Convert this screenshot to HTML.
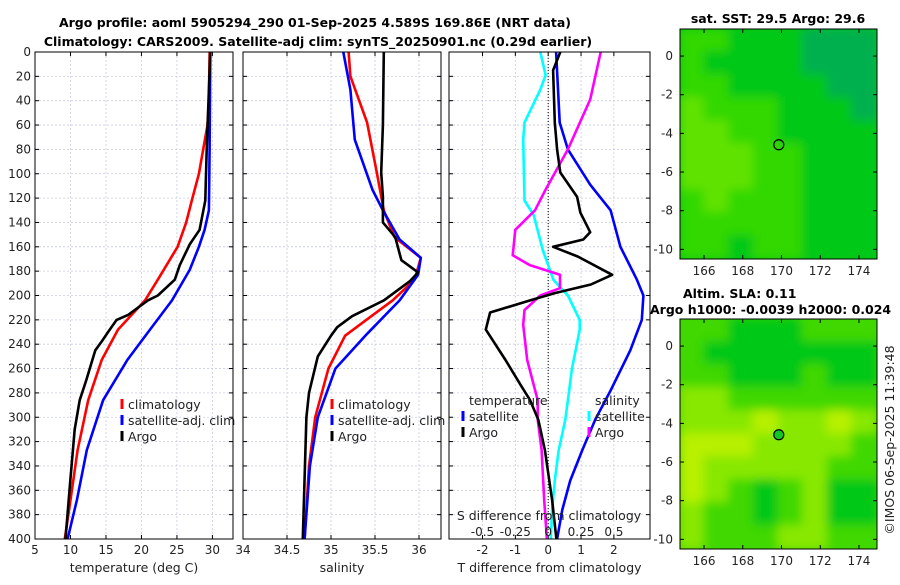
<!DOCTYPE html>
<html><head><meta charset="utf-8"><style>
body{margin:0;background:#fff;width:900px;height:580px;overflow:hidden}
svg{font-family:"DejaVu Sans","Liberation Sans",sans-serif}
</style></head><body>
<svg id="c" width="900" height="580">
<defs><filter id="bl"><feGaussianBlur stdDeviation="5"/></filter>
<clipPath id="m1c"><rect x="680" y="29" width="197" height="230"/></clipPath>
<clipPath id="m2c"><rect x="680" y="319" width="197" height="230"/></clipPath></defs>
<text x="315" y="27" text-anchor="middle" font-size="12.5" font-weight="bold">Argo profile: aoml 5905294_290 01-Sep-2025 4.589S 169.86E (NRT data)</text>
<text x="318" y="46" text-anchor="middle" font-size="12.5" font-weight="bold">Climatology: CARS2009. Satellite-adj clim: synTS_20250901.nc (0.29d earlier)</text>
<text x="778" y="23" text-anchor="middle" font-size="12.5" font-weight="bold">sat. SST: 29.5 Argo: 29.6</text>
<text x="683" y="298" font-size="12.5" font-weight="bold">Altim. SLA: 0.11</text>
<text x="650" y="314" font-size="12.5" font-weight="bold">Argo h1000: -0.0039 h2000: 0.024</text>
<text transform="translate(894,440) rotate(-90)" text-anchor="middle" font-size="12.5" fill="#222">©IMOS 06-Sep-2025 11:39:48</text>
</svg>
<script>
const depths=[0,20,40,60,80,100,120,140,160,170,180,190,200,220,240,260,280,300,320,340,360,380,400];
const tClimD=[0,40,60,80,100,122,140,160,187,204,228,253,286,327,368,400];
const tClim=[29.6,29.5,29.3,28.7,28.1,27.1,26.3,25.1,22.3,20.5,16.7,14.4,12.5,11,10,9.2];
const tSatD=[0,80,130,146,160,179,204,228,253,286,327,368,400];
const tSat=[29.7,29.6,29.5,28.9,28.1,26.8,24.3,21.2,18,14.6,12.3,10.9,9.6];
const tArgoD=[0,80,122,146,158,175,187,200,204,216,220,230,237,245,270,286,310,350,400];
const tArgo=[29.7,29.2,29.0,28.2,26.8,25.4,24.7,22.3,20.9,18.1,16.5,15.3,14.5,13.5,12.2,11.3,10.6,10,9.3];
const sClimD=[0,20,58,99,130,152,169,187,204,233,260,300,340,400];
const sClim=[35.2,35.22,35.41,35.52,35.6,35.72,36.02,35.95,35.7,35.16,34.97,34.82,34.75,34.7];
const sSatD=[0,31,72,113,130,154,169,183,204,233,260,300,340,400];
const sSat=[35.14,35.22,35.27,35.47,35.59,35.78,36.02,35.99,35.78,35.39,35.05,34.85,34.76,34.7];
const sArgoD=[0,60,99,119,140,152,171,181,188,204,217,226,233,250,280,300,400];
const sArgo=[35.6,35.59,35.57,35.59,35.59,35.73,35.8,35.99,35.9,35.6,35.24,35.07,35.0,34.85,34.75,34.72,34.68];
const dTArgoD=[0,15,58,80,99,119,132,148,154,160,168,183,191,198,204,214,228,253,273,286,302,327,368,400];
const dTArgo=[0.37,0.15,0.2,0.27,0.37,0.88,0.98,1.28,1.07,0.15,0.9,1.95,1.3,0.2,-0.55,-1.77,-1.9,-1.3,-0.85,-0.55,-0.3,-0.1,0.12,0.25];
const dTSatD=[0,58,80,109,130,160,187,200,220,245,278,302,327,352,376,400];
const dTSat=[0.24,0.35,0.6,1.28,1.9,2.2,2.7,2.9,2.85,2.5,1.9,1.43,1.04,0.67,0.43,0.27];
const dSSatD=[0,19,31,58,72,122,134,163,187,200,220,228,261,286,302,327,352,376,400];
const dSSat=[-0.06,-0.02,-0.06,-0.18,-0.19,-0.18,-0.11,-0.04,0.04,0.15,0.24,0.24,0.18,0.15,0.13,0.08,0.05,0.03,0.02];
const dSArgoD=[0,39,80,113,130,146,167,175,183,194,200,212,224,253,286,302,327,368,400];
const dSArgo=[0.4,0.32,0.15,-0.02,-0.1,-0.25,-0.27,-0.14,0.09,0.09,-0.06,-0.18,-0.19,-0.16,-0.08,-0.08,-0.05,-0.03,-0.01];
const depthTicks=[0,20,40,60,80,100,120,140,160,180,200,220,240,260,280,300,320,340,360,380,400];
const tTicks=[5,10,15,20,25,30];
const sTicks=[34,34.5,35,35.5,36];
const dTTicks=[-2,-1,0,1,2];
const dSTicks=[-0.5,-0.25,0,0.25,0.5];
const latTicks=[0,-2,-4,-6,-8,-10];
const lonTicks=[166,168,170,172,174];
const sstGrid=[[2,2,1,1,1,0,0,0],[2,1,1,1,1,0,0,0],[2,2,1,1,1,1,0,0],[3,2,2,2,1,1,1,0],[3,3,2,2,1,1,1,1],[3,3,3,2,2,1,1,1],[3,3,3,2,2,1,1,1],[2,3,2,2,2,1,1,1],[2,2,2,2,2,1,1,1],[2,2,1,2,2,1,1,1]];
const slaGrid=[[1,1,0,0,0,1,1,1],[1,0,0,0,0,0,0,0],[1,1,0,0,0,1,0,0],[2,2,1,1,1,1,1,1],[2,2,2,3,2,2,3,2],[3,3,3,2,2,2,2,1],[3,2,2,2,2,2,1,1],[3,2,1,0,1,2,0,0],[2,1,1,0,1,2,0,0],[2,1,1,1,2,2,1,1]];
const argoLon=169.86, argoLat=-4.589;

const svg=document.getElementById('c');const NS='http://www.w3.org/2000/svg';
function el(t,a,p){const e=document.createElementNS(NS,t);for(const k in a)e.setAttribute(k,a[k]);(p||svg).appendChild(e);return e;}
const Y0=52,Y1=539;const yD=d=>Y0+d/400*(Y1-Y0);
function panel(name,x0,x1,vmin,vmax,ticks,lbl){
  const g=el('g',{});
  const xs=v=>x0+(v-vmin)/(vmax-vmin)*(x1-x0);
  el('rect',{x:x0,y:Y0,width:x1-x0,height:Y1-Y0,fill:'#fff'},g);
  depthTicks.forEach(d=>{el('line',{x1:x0,x2:x1,y1:yD(d),y2:yD(d),stroke:'#c8cde0','stroke-dasharray':'2,2','stroke-width':0.8},g);
    el('line',{x1:x0,x2:x0+4,y1:yD(d),y2:yD(d),stroke:'#000'},g);el('line',{x1:x1-4,x2:x1,y1:yD(d),y2:yD(d),stroke:'#000'},g);});
  ticks.forEach(v=>{const x=xs(v);el('line',{x1:x,x2:x,y1:Y0,y2:Y1,stroke:'#c8cde0','stroke-dasharray':'2,2','stroke-width':0.8},g);
    el('line',{x1:x,x2:x,y1:Y1,y2:Y1-4,stroke:'#000'},g);el('line',{x1:x,x2:x,y1:Y0,y2:Y0+4,stroke:'#000'},g);
    const t=el('text',{x:x,y:554,'text-anchor':'middle','font-size':12,fill:'#222'},g);t.textContent=v;
    });
  const tl=el('text',{x:(x0+x1)/2,y:572,'text-anchor':'middle','font-size':12.5,fill:'#222'},g);tl.textContent=lbl;
  
  return {g,xs,x0,x1};
}
function line(p,dArr,vArr,col,name,xs){
  const pts=dArr.map((d,i)=>xs(vArr[i]).toFixed(1)+','+yD(d).toFixed(1)).join(' ');
  const l=el('polyline',{points:pts,fill:'none',stroke:col,'stroke-width':2.6,'stroke-linejoin':'round'},p.g);
  
}
function frame(p){el('rect',{x:p.x0,y:Y0,width:p.x1-p.x0,height:Y1-Y0,fill:'none',stroke:'#000','stroke-width':1},p.g);}
function legend(p,x,y,items){items.forEach((it,i)=>{
  if(it[1])el('line',{x1:x,x2:x,y1:y+i*16-10,y2:y+i*16,stroke:it[1],'stroke-width':3},p.g);
  const t=el('text',{x:x+6,y:y+i*16,'font-size':12.5,fill:'#222'},p.g);t.textContent=it[0];
  });}

const p1=panel('temperature-panel',35,233,5,32.9,tTicks,'temperature (deg C)');
depthTicks.forEach(d=>{const t=el('text',{x:31,y:yD(d)+4,'text-anchor':'end','font-size':12,fill:'#222'});t.textContent=d;
  });
line(p1,tClimD,tClim,'#f00','temp-climatology-line',p1.xs);
line(p1,tSatD,tSat,'#00f','temp-satellite-line',p1.xs);
line(p1,tArgoD,tArgo,'#000','temp-argo-line',p1.xs);
legend(p1,122,409,[['climatology','#f00'],['satellite-adj. clim','#00f'],['Argo','#000']]);frame(p1);

const p2=panel('salinity-panel',243,441,34,36.25,sTicks,'salinity');
line(p2,sClimD,sClim,'#f00','sal-climatology-line',p2.xs);
line(p2,sSatD,sSat,'#00f','sal-satellite-line',p2.xs);
line(p2,sArgoD,sArgo,'#000','sal-argo-line',p2.xs);
legend(p2,332,409,[['climatology','#f00'],['satellite-adj. clim','#00f'],['Argo','#000']]);frame(p2);

const p3=panel('difference-panel',449,650,-3.02,3.1,dTTicks,'T difference from climatology');
const xsS=v=>p3.xs(v*4);
el('line',{x1:p3.xs(0),x2:p3.xs(0),y1:Y0,y2:Y1,stroke:'#000','stroke-dasharray':'1,2'},p3.g);
line(p3,dTSatD,dTSat,'#00f','dT-satellite-line',p3.xs);
line(p3,dSSatD,dSSat,'#0ff','dS-satellite-line',xsS);
line(p3,dSArgoD,dSArgo,'#f0f','dS-argo-line',xsS);
line(p3,dTArgoD,dTArgo,'#000','dT-argo-line',p3.xs);
legend(p3,463,405,[['temperature',null],['satellite','#00f'],['Argo','#000']]);
legend(p3,589,405,[['salinity',null],['satellite','#0ff'],['Argo','#f0f']]);
{const t=el('text',{x:549,y:520,'text-anchor':'middle','font-size':12.5,fill:'#222'},p3.g);t.textContent='S difference from climatology';
}
dSTicks.forEach(v=>{const t=el('text',{x:xsS(v),y:536,'text-anchor':'middle','font-size':12,fill:'#222'},p3.g);t.textContent=v;
  });
frame(p3);

function map(name,grid,cols,yTop,clip,filled){
  const g=el('g',{});
  const X0=680,X1=877,lon0=164.76,lon1=174.93,lat0=1.4,lat1=-10.5,H=230;
  const xl=v=>X0+(v-lon0)/(lon1-lon0)*(X1-X0);const yl=v=>yTop+(lat0-v)/(lat0-lat1)*H;
  const gi=el('g',{'clip-path':'url(#'+clip+')'},g);
  el('rect',{x:X0,y:yTop,width:197,height:H,fill:cols[1]},gi);
  const gb=el('g',{filter:'url(#bl)'},gi);
  const cw=197/8,ch=H/10;
  grid.forEach((r,i)=>r.forEach((v,j)=>el('rect',{x:X0+j*cw-1,y:yTop+i*ch-1,width:cw+2,height:ch+2,fill:cols[v]},gb)));
  el('rect',{x:X0,y:yTop,width:197,height:H,fill:'none',stroke:'#000'},g);
  latTicks.forEach(v=>{const y=yl(v);el('line',{x1:X0,x2:X0+4,y1:y,y2:y,stroke:'#000'},g);el('line',{x1:X1-4,x2:X1,y1:y,y2:y,stroke:'#000'},g);
    const t=el('text',{x:673,y:y+4,'text-anchor':'end','font-size':12,fill:'#222'},g);t.textContent=v;
    });
  lonTicks.forEach(v=>{const x=xl(v);el('line',{x1:x,x2:x,y1:yTop+H,y2:yTop+H-4,stroke:'#000'},g);el('line',{x1:x,x2:x,y1:yTop,y2:yTop+4,stroke:'#000'},g);
    const t=el('text',{x:x,y:yTop+H+16,'text-anchor':'middle','font-size':12,fill:'#222'},g);t.textContent=v;
    });
  const c=el('circle',{cx:xl(argoLon),cy:yl(argoLat),r:5,fill:filled?'#10c820':'none',stroke:'#000','stroke-width':1.2},g);
  
}
map('sst-map',sstGrid,['#00b050','#04c818','#30d800','#60e200'],29,'m1c',false);
map('sla-map',slaGrid,['#04c818','#40d800','#88e800','#b8f000'],319,'m2c',true);
</script>
</body></html>
